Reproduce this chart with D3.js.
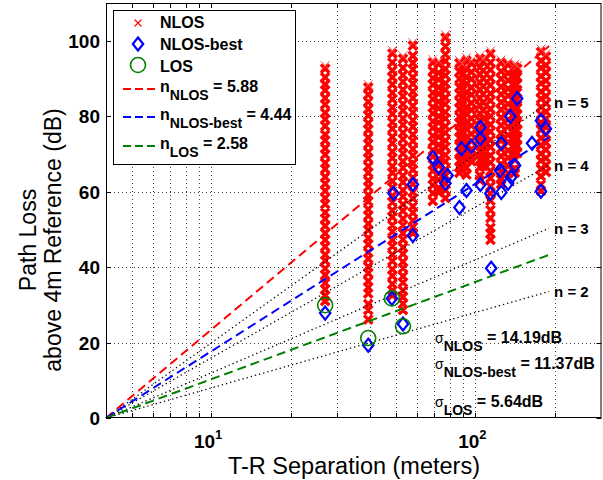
<!DOCTYPE html>
<html><head><meta charset="utf-8">
<script src="https://cdn.jsdelivr.net/npm/d3@7"></script>
<style>body{margin:0;background:#fff}svg{display:block}text{font-family:"Liberation Sans",Arial,sans-serif}</style>
</head><body><svg id="c" width="603" height="480"></svg>
<script>
// ---------- data ----------
const nlosDistances = [27, 39.3, 48.5, 53.2, 58, 69, 72.6, 77, 87, 89, 92.5, 96.6, 104, 107, 114, 125, 133, 141, 144, 177, 185];
const nlosValues = [
 [92.6,90.3,88.4,86.9,84.8,83.1,80.9,79.2,77.4,75.1,73.6,71.5,69.8,67.6,66.0,63.9,62.1,60.2,58.3,56.7,54.5,52.8,50.9,49.0,47.2,45.4,43.3,41.7,39.6,37.9,35.8,34.1,32.4,31.0],
 [87.6,85.7,83.8,81.9,80.2,78.1,76.4,74.3,72.6,70.5,68.8,66.7,65.0,62.9,61.2,59.1,57.4,55.3,53.6,51.5,49.8,47.7,46.0,43.9,42.2,40.1,38.4,36.3,34.6,33.0,30.2,28.6,26.1],
 [96.6,94.2,92.1,90.3,88.4,86.2,84.5,82.3,80.6,78.4,76.7,74.5,72.8,70.6,68.9,66.7,65.0,62.8,61.1,58.9,57.2,55.0,53.3,51.1,49.4,47.2,45.5,43.3,41.6,39.4,37.7,35.5,33.8,32.5],
 [95.2,92.8,90.9,89.1,87.0,85.3,83.2,81.5,79.4,77.7,75.6,73.9,71.8,70.1,68.0,66.3,64.2,62.5,60.4,58.7,56.6,54.9,52.8,51.1,49.0,47.3,45.2,43.5,41.4,39.7,37.6,35.9,33.8,32.1,30.3,28.6],
 [98.7,96.0,94.1,92.4,90.3,88.6,86.5,84.8,82.7,81.0,78.9,77.2,75.1,73.4,71.3,69.6,67.5,65.8,63.7,62.0,59.9,58.2,56.1,54.4,52.3,50.6,49.0],
 [94.2,92.0,90.1,88.3,86.2,84.5,82.4,80.7,78.6,76.9,74.8,73.1,71.0,69.3,67.2,65.5,63.4,61.7,59.6,57.5],
 [93.8,91.5,89.7,87.6,85.9,83.8,82.1,80.0,78.3,76.2,74.5,72.4,70.7,68.6,66.9,64.8,63.1,61.0,59.8],
 [100.8,98.5,96.4,94.6,92.5,90.8,88.7,87.0,84.9,83.2,81.1,79.4,77.3,75.6,73.5,71.8,69.7,68.0,65.9,64.2,62.1,60.4,58.3],
 [94.0,91.8,89.9,87.7,85.9,83.8,82.0,79.9,78.1,76.0,74.2,72.1,70.3,68.2,66.4,65.0],
 [93.1,90.9,89.0,86.8,84.9,82.7,80.8,78.6,76.7,74.5,72.6,70.4,68.5,66.3],
 [94.7,92.5,90.4,88.6,86.4,84.6,82.4,80.6,78.4,76.6,74.4,72.6,70.4,68.6,66.4,64.5],
 [94.0,91.7,89.8,87.6,85.7,83.5,81.6,79.4,77.5,75.3,73.4,71.2,69.3,68.0],
 [95.2,93.0,91.1,88.9,87.0,84.8,82.9,80.7,78.8,76.6,74.7,72.5,70.6,68.4,66.5,64.3,63.0],
 [94.4,92.1,90.0,87.9,85.8,83.6,81.5,79.3,77.2,75.0,72.9,70.7,68.6,66.8],
 [96.5,94.2,92.3,90.1,88.2,86.0,84.1,81.9,80.0,77.8,75.9,73.7,71.8,69.6,67.7,65.5,63.6,61.4,59.5,57.6,55.1,53.0,50.4,48.9,47.2],
 [94.1,91.9,89.9,87.8,85.8,83.7,81.7,79.6,77.6,75.5,73.5,71.4,69.4,67.3,65.3,63.2,62.0],
 [93.6,91.4,89.5,87.3,85.4,83.2,81.3,79.1,77.2,75.0,73.1,70.9,69.0,66.8,64.9],
 [93.0,90.8,88.9,86.7,84.8,82.6,80.7,78.5,76.6,74.4,72.5,70.3,68.4,66.2,65.0],
 [92.6,90.4,88.5,86.3,84.4,82.2,80.3,78.1,76.2,74.0,72.1,70.2],
 [97.0,94.7,92.8,90.6,88.7,86.5,84.6,82.4,80.5,78.3,76.4,74.2,72.3,70.1,68.2,66.0,64.1,61.9,60.2],
 [95.8,93.5,91.6,89.4,87.5,85.3,83.4,81.2,79.3,77.1,75.2,73.0,71.1,68.9,67.0,65.2]
];
const bestDistances = [27, 39.3, 48.3, 49, 53.2, 58, 58, 69, 72.6, 77, 78.5, 87, 88.6, 92.5, 96.6, 104.4, 104.4, 104.4, 113.8, 114.7, 125.3, 125.3, 124, 133, 136.5, 141.3, 135.5, 143.9, 163.8, 177, 177, 184.8];
const bestValues    = [27.8, 19.3, 31.7, 59.5, 24.9, 48.4, 61.9, 69.0, 66.4, 62.2, 64.3, 55.8, 71.4, 60.3, 72.0, 77.0, 74.1, 61.9, 59.5, 39.7, 72.8, 59.8, 65.6, 62.2, 63.8, 66.9, 79.9, 84.7, 72.8, 60.1, 78.8, 76.7];
const losDistances = [27, 39.3, 48.3, 53.2];
const losValues    = [29.9, 21.2, 31.7, 24.3];
const fitNames = ["NLOS", "NLOS-best", "LOS"];
const fitN = [5.88, 4.44, 2.58];
const fitColors = ["#ff0000", "#0000ff", "#008000"];
const refN = [2, 3, 4, 5];
const lineRange = [4, 190];
const sigmaNames = ["NLOS", "NLOS-best", "LOS"];
const sigmaValues = ["14.19dB", "11.37dB", "5.64dB"];
const yTicks = [0, 20, 40, 60, 80, 100];
const xMajor = [10, 100];
const xMinor = [5, 6, 7, 8, 9, 20, 30, 40, 50, 60, 70, 80, 90, 200];

// ---------- layout ----------
const L = 106, R = 601.5, T = 3, B = 418;
const svg = d3.select("#c");
const x = d3.scaleLog().domain([4, 300]).range([L, R]);
const y = d3.scaleLinear().domain([0, 110]).range([B, T]);

// grid
const grid = svg.append("g").attr("stroke", "#444").attr("stroke-width", 1).attr("stroke-dasharray", "1,3");
xMajor.concat(xMinor).forEach(v => grid.append("line").attr("x1", Math.round(x(v)) + .5).attr("x2", Math.round(x(v)) + .5).attr("y1", T).attr("y2", B));
yTicks.slice(1).forEach(v => grid.append("line").attr("x1", L).attr("x2", R).attr("y1", Math.round(y(v)) + .5).attr("y2", Math.round(y(v)) + .5));

// NLOS crosses
const pts = [];
nlosDistances.forEach((d, i) => nlosValues[i].forEach(v => pts.push([d, v])));
const s = 4.2;
svg.append("path").attr("fill", "none").attr("stroke", "#ff0000").attr("stroke-width", 3.4)
  .attr("d", pts.map(p => { const cx = x(p[0]), cy = y(p[1]); return `M${cx-s},${cy-s}L${cx+s},${cy+s}M${cx-s},${cy+s}L${cx+s},${cy-s}`; }).join(""));
// thin crosses at column tops for the thin-marker look
svg.append("path").attr("fill", "none").attr("stroke", "#ff5050").attr("stroke-width", 1)
  .attr("d", nlosDistances.map((d, i) => { const cx = x(d), cy = y(nlosValues[i][0]) - 3, q = 4.5; return `M${cx-q},${cy-q}L${cx+q},${cy+q}M${cx-q},${cy+q}L${cx+q},${cy-q}`; }).join(""));

// reference dotted lines
const line = d3.line().x(d => x(d[0])).y(d => y(d[1]));
const pl = (n, d) => 10 * n * Math.log10(d / 4);
refN.forEach(n => svg.append("path").attr("fill", "none").attr("stroke", "#000").attr("stroke-width", 1.3)
  .attr("stroke-dasharray", "1.3,3").attr("d", line(lineRange.map(d => [d, pl(n, d)]))));
// fit lines
fitN.forEach((n, i) => svg.append("path").attr("fill", "none").attr("stroke", fitColors[i]).attr("stroke-width", 2)
  .attr("stroke-dasharray", "9,5").attr("d", line(lineRange.map(d => [d, pl(n, d)]))));

// diamonds
const dia = (cx, cy) => `M${cx},${cy-6.5}L${cx+5.2},${cy}L${cx},${cy+6.5}L${cx-5.2},${cy}Z`;
svg.append("g").selectAll("path").data(bestDistances).join("path")
  .attr("d", (d, i) => dia(x(d), y(bestValues[i]))).attr("fill", "none").attr("stroke", "#0000ff").attr("stroke-width", 2.2);
// circles
svg.append("g").selectAll("circle").data(losDistances).join("circle")
  .attr("cx", d => x(d)).attr("cy", (d, i) => y(losValues[i])).attr("r", 7.5)
  .attr("fill", "none").attr("stroke", "#008000").attr("stroke-width", 1.6);

// axes box + ticks
svg.append("rect").attr("x", L + .5).attr("y", T + .5).attr("width", R - L - 1).attr("height", B - T - 1)
  .attr("fill", "none").attr("stroke", "#000").attr("stroke-width", 1);
const tk = svg.append("g").attr("stroke", "#000").attr("stroke-width", 1);
xMajor.concat(xMinor).forEach(v => {
  const px = Math.round(x(v)) + .5;
  tk.append("line").attr("x1", px).attr("x2", px).attr("y1", B).attr("y2", B - 5);
  tk.append("line").attr("x1", px).attr("x2", px).attr("y1", T).attr("y2", T + 5);
});
yTicks.forEach(v => {
  const py = Math.round(y(v)) + .5;
  tk.append("line").attr("x1", L).attr("x2", L + 5).attr("y1", py).attr("y2", py);
  tk.append("line").attr("x1", R).attr("x2", R - 5).attr("y1", py).attr("y2", py);
});

// tick labels
svg.append("g").selectAll("text").data(yTicks).join("text")
  .attr("x", 100).attr("y", d => y(d) + 7).attr("text-anchor", "end")
  .attr("font-size", 19).attr("font-weight", "bold").text(d => d);
xMajor.forEach(v => {
  const t = svg.append("text").attr("x", x(v) - 3).attr("y", 448).attr("text-anchor", "middle")
    .attr("font-size", 19).attr("font-weight", "bold");
  t.append("tspan").text("10");
  t.append("tspan").attr("dy", -9).attr("font-size", 13).text(String(Math.round(Math.log10(v))));
});

// axis titles
svg.append("text").attr("x", 354).attr("y", 474).attr("text-anchor", "middle")
  .attr("font-size", 23.5).text("T-R Separation (meters)");
const yl = svg.append("g").attr("transform", "translate(0,240) rotate(-90)");
yl.append("text").attr("x", 0).attr("y", 36).attr("text-anchor", "middle").attr("font-size", 23).text("Path Loss");
yl.append("text").attr("x", 0).attr("y", 61).attr("text-anchor", "middle").attr("font-size", 23).text("above 4m Reference (dB)");

// n = k labels
refN.forEach(n => svg.append("text").attr("x", x(lineRange[1]) + 5).attr("y", y(pl(n, lineRange[1])) + 6)
  .attr("font-size", 15).attr("font-weight", "bold").text(`n = ${n}`));

// sigma labels
const sigY = [343, 369, 407];
sigmaNames.forEach((nm, i) => {
  const t = svg.append("text").attr("x", 435).attr("y", sigY[i]).attr("font-weight", "bold").attr("font-size", 16);
  t.append("tspan").attr("font-size", 14).attr("font-weight", "normal").text("σ");
  t.append("tspan").attr("dy", 8).attr("font-size", 14).text(nm);
  t.append("tspan").attr("dy", -8).text(" = " + sigmaValues[i]);
});

// legend
const lg = svg.append("g");
lg.append("rect").attr("x", 113.5).attr("y", 10.5).attr("width", 182).attr("height", 154)
  .attr("fill", "#fff").attr("stroke", "#000").attr("stroke-width", 1);
const lx = 138;
lg.append("path").attr("d", `M${lx-3.5},${23-3.5}L${lx+3.5},${23+3.5}M${lx-3.5},${23+3.5}L${lx+3.5},${23-3.5}`)
  .attr("stroke", "#ff0000").attr("stroke-width", 1.1);
lg.append("path").attr("d", dia(lx, 44)).attr("fill", "none").attr("stroke", "#0000ff").attr("stroke-width", 2.2);
lg.append("circle").attr("cx", lx).attr("cy", 65).attr("r", 7.5).attr("fill", "none").attr("stroke", "#008000").attr("stroke-width", 1.6);
const mkNames = ["NLOS", "NLOS-best", "LOS"], mkY = [28, 50, 72];
mkNames.forEach((nm, i) => lg.append("text").attr("x", 160).attr("y", mkY[i]).attr("font-size", 16).attr("font-weight", "bold").text(nm));
const lnY = [89, 117, 146];
fitNames.forEach((nm, i) => {
  lg.append("line").attr("x1", 123).attr("x2", 156).attr("y1", lnY[i]).attr("y2", lnY[i])
    .attr("stroke", fitColors[i]).attr("stroke-width", 2).attr("stroke-dasharray", "8,4");
  const t = lg.append("text").attr("x", 160).attr("y", lnY[i] + 3).attr("font-size", 16).attr("font-weight", "bold");
  t.append("tspan").text("n");
  t.append("tspan").attr("dy", 8).attr("font-size", 14).text(nm);
  t.append("tspan").attr("dy", -8).text(" = " + fitN[i].toFixed(2));
});
</script></body></html>
